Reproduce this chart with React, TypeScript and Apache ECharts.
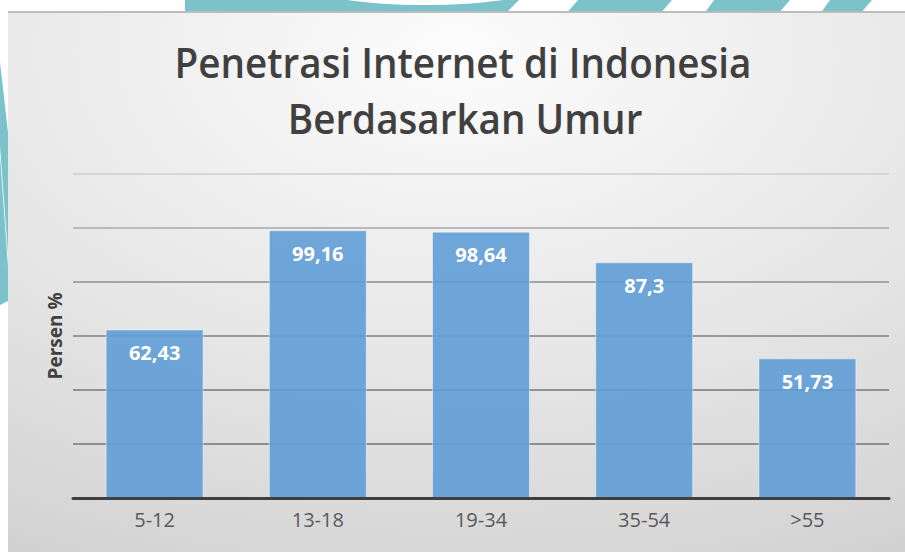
import React, { useEffect, useRef } from "react";
import * as echarts from "echarts";

const categories = ["5-12", "13-18", "19-34", "35-54", ">55"];
const values = [62.43, 99.16, 98.64, 87.3, 51.73];
const yMin = 0;
const yMax = 120;
const yInterval = 20;
const titleLines = ["Penetrasi Internet di Indonesia", "Berdasarkan Umur"];
const yAxisName = "Persen %";

const TEAL = "#7cc2ca";
const FONT = "Open Sans";

export default function App() {
  const ref = useRef<HTMLDivElement>(null);
  useEffect(() => {
    if (!ref.current) return;
    const chart = echarts.init(ref.current, undefined, { renderer: "svg" });
    const option: any = {
      animation: false,
      backgroundColor: "#ffffff",
      textStyle: { fontFamily: FONT },
      grid: { left: 73, right: 16, top: 174, bottom: 54, containLabel: false },
      xAxis: {
        type: "category",
        data: categories,
        z: 5,
        axisLine: { show: true, lineStyle: { color: "#3f3f3f", width: 3 } },
        axisTick: { show: false },
        axisLabel: { color: "#595959", fontSize: 20, fontFamily: FONT, margin: 11 },
        splitLine: { show: false },
      },
      yAxis: {
        type: "value",
        min: yMin,
        max: yMax,
        interval: yInterval,
        z: 3,
        name: yAxisName,
        nameLocation: "middle",
        nameRotate: 90,
        nameGap: 9,
        nameTextStyle: { color: "#404040", fontSize: 19, fontWeight: "bold", fontFamily: FONT },
        axisLine: { show: false },
        axisTick: { show: false },
        axisLabel: { show: false },
        splitLine: {
          show: true,
          lineStyle: {
            width: 2,
            color: ["#8a8a8a", "#8e8e8e", "#929292", "#999999", "#a5a5a5", "#b9b9b9", "#d6d6d6"],
          },
        },
      },
      series: [
        {
          type: "bar",
          data: values,
          z: 4,
          barCategoryGap: "40%",
          itemStyle: {
            color: "rgba(95,157,214,0.9)",
            borderColor: "rgba(255,255,255,0.45)",
            borderWidth: 1,
          },
          label: {
            show: true,
            position: "insideTop",
            distance: 13,
            color: "#ffffff",
            fontSize: 20,
            fontWeight: "bold",
            fontFamily: FONT,
            formatter: (p: any) => String(p.value).replace(".", ","),
          },
        },
      ],
      graphic: [
        // top decorative band
        { type: "polygon", z: 0, shape: { points: [[185, 0], [519, 0], [505, 14], [185, 14]] }, style: { fill: TEAL } },
        { type: "ellipse", z: 0, shape: { cx: 425, cy: -15, rx: 118, ry: 20 }, style: { fill: "#ffffff" } },
        { type: "polygon", z: 0, shape: { points: [[578, 0], [672, 0], [660, 14], [566, 14]] }, style: { fill: TEAL } },
        { type: "polygon", z: 0, shape: { points: [[714, 0], [790, 0], [778, 14], [704, 14]] }, style: { fill: TEAL } },
        { type: "polygon", z: 0, shape: { points: [[830, 0], [872, 0], [860, 14], [820, 14]] }, style: { fill: TEAL } },
        // left decorative band
        { type: "polygon", z: 0, shape: { points: [[0, 62], [10, 150], [10, 282], [0, 146]] }, style: { fill: TEAL } },
        { type: "polygon", z: 0, shape: { points: [[0, 156], [10, 294], [10, 300], [0, 305]] }, style: { fill: TEAL } },
        // panel
        {
          type: "rect",
          z: 1,
          shape: { x: 8, y: 11, width: 897, height: 541 },
          style: {
            fill: new echarts.graphic.RadialGradient(0.5, 0.08, 1.3, [
              { offset: 0, color: "#fcfcfc" },
              { offset: 0.45, color: "#e6e6e6" },
              { offset: 0.8, color: "#d2d2d2" },
              { offset: 1, color: "#c6c6c6" },
            ]),
          },
        },
        { type: "line", z: 2, shape: { x1: 8, y1: 12, x2: 905, y2: 12 }, style: { stroke: "#bcbcbc", lineWidth: 2 } },
        // title
        {
          type: "text",
          z: 6,
          x: 463,
          y: 62,
          scaleX: 0.92,
          style: {
            text: titleLines[0],
            fill: "#404040",
            font: `600 42px "${FONT}"`,
            textAlign: "center",
            textVerticalAlign: "middle",
          },
        },
        {
          type: "text",
          z: 6,
          x: 465,
          y: 118,
          scaleX: 0.92,
          style: {
            text: titleLines[1],
            fill: "#404040",
            font: `600 42px "${FONT}"`,
            textAlign: "center",
            textVerticalAlign: "middle",
          },
        },
      ],
    };
    chart.setOption(option);
    return () => chart.dispose();
  }, []);
  return (
    <div
      ref={ref}
      style={{ position: "fixed", left: 0, top: 0, width: 905, height: 552 }}
    />
  );
}
